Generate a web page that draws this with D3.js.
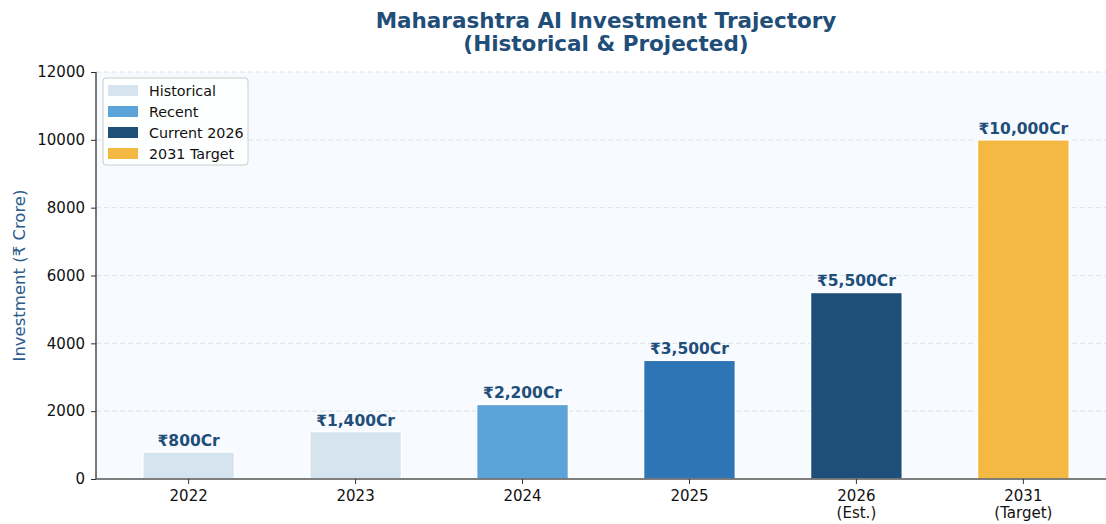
<!DOCTYPE html>
<html>
<head>
<meta charset="utf-8">
<script src="https://cdn.jsdelivr.net/npm/d3@7"></script>
<style>
  body { margin: 0; background: #fff; }
  text { font-family: "DejaVu Sans", sans-serif; }
</style>
</head>
<body>
<div id="chart"></div>
<script>
// chart data
const years = ["2022", "2023", "2024", "2025", "2026", "2031"];
const yearNotes = ["", "", "", "", "(Est.)", "(Target)"];
const investment = [800, 1400, 2200, 3500, 5500, 10000];
const barLabels = ["₹800Cr", "₹1,400Cr", "₹2,200Cr", "₹3,500Cr", "₹5,500Cr", "₹10,000Cr"];
const barColors = ["#d6e4ef", "#d6e4ef", "#5ba3d9", "#2e75b6", "#1f4e79", "#f4b942"];
const legendNames = ["Historical", "Recent", "Current 2026", "2031 Target"];
const legendColors = ["#d6e4ef", "#5ba3d9", "#1f4e79", "#f4b942"];
const yTicks = [0, 2000, 4000, 6000, 8000, 10000, 12000];

const W = 1106, H = 524;
const margin = { top: 72, left: 96, bottom: 45 };
const plotRight = 1116;             // axes run a bit past the picture edge
const plotBottom = H - margin.bottom;

const svg = d3.select("#chart").append("svg")
    .attr("width", W)
    .attr("height", H);

const x = d3.scaleBand()
    .domain(years)
    .range([margin.left, plotRight])
    .paddingInner(0.45)
    .paddingOuter(0.28);

const y = d3.scaleLinear()
    .domain([0, 12000])
    .range([plotBottom, margin.top]);

// plot background
svg.append("rect")
    .attr("x", margin.left)
    .attr("y", margin.top)
    .attr("width", plotRight - margin.left)
    .attr("height", plotBottom - margin.top)
    .attr("fill", "#f7faff");

// dashed grid
svg.append("g")
    .selectAll("line")
    .data(yTicks.slice(1))
    .join("line")
    .attr("x1", margin.left)
    .attr("x2", plotRight)
    .attr("y1", d => y(d))
    .attr("y2", d => y(d))
    .attr("stroke", "#dde3ea")
    .attr("stroke-width", 1)
    .attr("stroke-dasharray", "5,3");

// bars
svg.append("g")
    .selectAll("rect")
    .data(investment)
    .join("rect")
    .attr("x", (d, i) => x(years[i]))
    .attr("y", d => y(d))
    .attr("width", x.bandwidth())
    .attr("height", d => plotBottom - y(d))
    .attr("fill", (d, i) => barColors[i])
    .attr("stroke", "#fff")
    .attr("stroke-width", 1.5);

// value labels
svg.append("g")
    .selectAll("text")
    .data(investment)
    .join("text")
    .attr("x", (d, i) => x(years[i]) + x.bandwidth() / 2)
    .attr("y", d => y(d) - 6)
    .attr("text-anchor", "middle")
    .style("font-size", "15.5px")
    .style("font-weight", "bold")
    .attr("fill", "#1f4e79")
    .text((d, i) => barLabels[i]);

// y axis
const yAxis = svg.append("g")
    .attr("transform", "translate(" + margin.left + ",0)")
    .call(d3.axisLeft(y).tickValues(yTicks).tickSize(5).tickPadding(6).tickFormat(d3.format("d")));
yAxis.selectAll("text").style("font-size", "15px").attr("fill", "#111");
yAxis.selectAll("line").attr("stroke", "#333");
yAxis.select(".domain").attr("stroke", "#333").attr("stroke-width", 1.3)
    .attr("d", "M0," + plotBottom + "V" + margin.top);

// x axis
const xAxis = svg.append("g")
    .attr("transform", "translate(0," + plotBottom + ")")
    .call(d3.axisBottom(x).tickSize(5).tickPadding(6));
xAxis.select(".domain").attr("stroke", "#555").attr("stroke-width", 1.6)
    .attr("d", "M" + margin.left + ",0H" + plotRight);
xAxis.selectAll("line").attr("stroke", "#333");
xAxis.selectAll("text").style("font-size", "15px").attr("fill", "#111");
xAxis.selectAll(".tick").each(function(d, i) {
    const note = yearNotes[i];
    if (note) {
        d3.select(this).append("text")
            .attr("y", 28)
            .attr("dy", "0.71em")
            .attr("fill", "#111")
            .attr("text-anchor", "middle")
            .style("font-size", "15px")
            .text(note);
    }
});

// y label
svg.append("text")
    .attr("transform", "translate(25," + ((margin.top + plotBottom) / 2) + ") rotate(-90)")
    .attr("text-anchor", "middle")
    .style("font-size", "16.5px")
    .attr("fill", "#2a5b8c")
    .text("Investment (₹ Crore)");

// title
const titleX = (margin.left + plotRight) / 2;
svg.append("text")
    .attr("x", titleX)
    .attr("y", 28)
    .attr("text-anchor", "middle")
    .style("font-size", "21.5px")
    .style("font-weight", "bold")
    .attr("fill", "#1f4e79")
    .text("Maharashtra AI Investment Trajectory");
svg.append("text")
    .attr("x", titleX)
    .attr("y", 51)
    .attr("text-anchor", "middle")
    .style("font-size", "21.5px")
    .style("font-weight", "bold")
    .attr("fill", "#1f4e79")
    .text("(Historical & Projected)");

// legend
const legend = svg.append("g")
    .attr("transform", "translate(103,78)");
legend.append("rect")
    .attr("width", 145)
    .attr("height", 87)
    .attr("rx", 3)
    .attr("fill", "#fff")
    .attr("fill-opacity", 0.85)
    .attr("stroke", "#ccc");
const item = legend.selectAll(".legend")
    .data(legendNames)
    .join("g")
    .attr("class", "legend")
    .attr("transform", (d, i) => "translate(5," + (7 + i * 21) + ")");
item.append("rect")
    .attr("width", 30)
    .attr("height", 11)
    .attr("fill", (d, i) => legendColors[i]);
item.append("text")
    .attr("x", 41)
    .attr("y", 5.5)
    .attr("dy", "0.35em")
    .style("font-size", "14.3px")
    .attr("fill", "#111")
    .text(d => d);
</script>
</body>
</html>
